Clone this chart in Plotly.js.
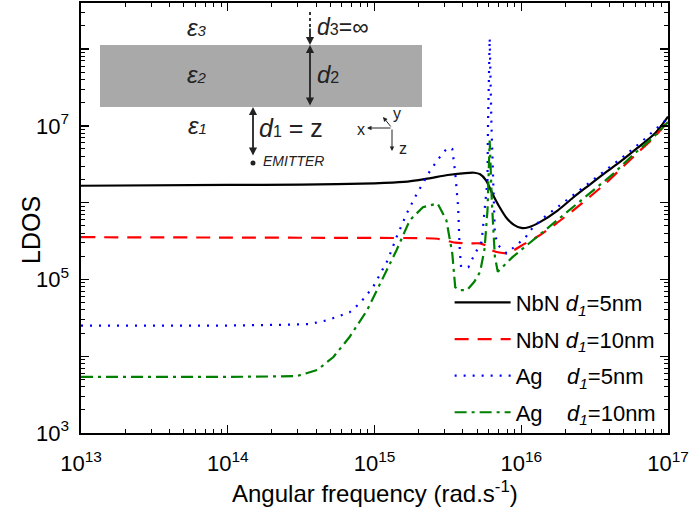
<!DOCTYPE html>
<html>
<head>
<meta charset="utf-8">
<script src="https://cdn.plot.ly/plotly-3.0.1.min.js"></script>
<style>html,body{margin:0;padding:0;background:#fff;}#chart{width:690px;height:508px;}</style>
</head>
<body>
<div id="chart"></div>
<script>
// Angular frequency (rad/s) and LDOS values
var nbn5_x = [1e13, 1e14, 3.162e14, 1e15, 1.585e15, 2.239e15, 3.162e15, 4.169e15, 4.786e15, 5.248e15, 5.754e15, 6.310e15, 7.079e15, 7.943e15, 8.913e15, 1e16, 1.122e16, 1.349e16, 1.778e16, 2.239e16, 2.818e16, 3.802e16, 5.012e16, 6.457e16, 7.943e16, 8.913e16, 1e17];
var nbn5_y = [1.66e6, 1.70e6, 1.72e6, 1.78e6, 1.86e6, 2.04e6, 2.29e6, 2.43e6, 2.45e6, 2.34e6, 1.95e6, 1.35e6, 8.91e5, 6.31e5, 5.13e5, 4.68e5, 4.79e5, 5.62e5, 7.94e5, 1.15e6, 1.62e6, 2.51e6, 3.72e6, 5.50e6, 7.59e6, 9.77e6, 1.32e7];

var nbn10_x = [1e13, 1e14, 1e15, 1.995e15, 2.692e15, 3.548e15, 4.467e15, 5.248e15, 5.754e15, 6.310e15, 7.079e15, 7.943e15, 8.913e15, 1e16, 1.349e16, 1.738e16, 2.512e16, 3.802e16, 5.012e16, 6.457e16, 7.943e16, 1e17];
var nbn10_y = [3.55e5, 3.51e5, 3.47e5, 3.45e5, 3.39e5, 3.02e5, 2.95e5, 2.95e5, 2.75e5, 2.40e5, 2.24e5, 2.19e5, 2.40e5, 2.75e5, 3.80e5, 5.37e5, 9.33e5, 1.82e6, 3.02e6, 4.79e6, 6.92e6, 1.15e7];

var ag5_x = [1e13, 1e14, 2.512e14, 3.631e14, 4.786e14, 6.761e14, 7.943e14, 9.772e14, 1.230e15, 1.413e15, 1.660e15, 1.950e15, 2.399e15, 2.951e15, 3.236e15, 3.388e15, 3.548e15, 3.715e15, 3.802e15, 3.890e15, 4.365e15, 4.786e15, 5.370e15, 5.623e15, 5.888e15, 5.933e15, 6.095e15, 6.266e15, 6.457e15, 6.607e15, 6.918e15, 7.943e15, 9.333e15, 1.072e16, 1.202e16, 1.413e16, 1.905e16, 2.630e16, 3.631e16, 4.898e16, 6.761e16, 1e17];
var ag5_y = [2.51e4, 2.51e4, 2.57e4, 2.63e4, 2.95e4, 3.72e4, 4.90e4, 7.94e4, 1.78e5, 3.55e5, 7.24e5, 1.32e6, 2.63e6, 4.57e6, 5.25e6, 5.01e6, 2.45e6, 8.71e5, 2.63e5, 1.45e5, 1.45e5, 2.09e5, 3.09e5, 7.24e5, 2.0e6, 1.0e7, 1.38e8, 1.0e7, 1.0e6, 3.98e5, 2.82e5, 2.19e5, 2.82e5, 3.55e5, 4.79e5, 6.31e5, 9.77e5, 1.55e6, 2.51e6, 3.89e6, 6.46e6, 1.26e7];

var ag10_x = [1e13, 1e14, 2.951e14, 4.074e14, 5.248e14, 6.761e14, 8.913e14, 1.148e15, 1.413e15, 1.738e15, 2.138e15, 2.692e15, 3.090e15, 3.388e15, 3.548e15, 3.802e15, 4.266e15, 4.786e15, 5.248e15, 5.623e15, 5.888e15, 6.095e15, 6.310e15, 6.607e15, 6.918e15, 8.710e15, 1.202e16, 1.660e16, 2.239e16, 3.090e16, 4.266e16, 5.754e16, 7.943e16, 1e17];
var ag10_y = [5.37e3, 5.37e3, 5.50e3, 6.61e3, 9.77e3, 1.78e4, 3.98e4, 1.07e5, 2.40e5, 5.89e5, 8.71e5, 9.77e5, 5.89e5, 2.19e5, 7.94e4, 7.24e4, 7.24e4, 9.33e4, 1.26e5, 2.51e5, 7.94e5, 6.46e6, 1.0e6, 2.0e5, 1.26e5, 1.95e5, 3.24e5, 5.37e5, 8.71e5, 1.45e6, 2.40e6, 4.17e6, 7.08e6, 1.12e7];

var legendNames = ['NbN <i>d<sub>1</sub></i>=5nm', 'NbN <i>d<sub>1</sub></i>=10nm', 'Ag\u00A0\u00A0\u00A0\u00A0<i>d<sub>1</sub></i>=5nm', 'Ag\u00A0\u00A0\u00A0\u00A0<i>d<sub>1</sub></i>=10nm'];
var xTickVals = [1e13, 1e14, 1e15, 1e16, 1e17];
var xTickText = ['10<sup>13</sup>', '10<sup>14</sup>', '10<sup>15</sup>', '10<sup>16</sup>', '10<sup>17</sup>'];
var yTickVals = [1e3, 1e4, 1e5, 1e6, 1e7, 1e8];
var yTickText = ['10<sup>3</sup>', '', '10<sup>5</sup>', '', '10<sup>7</sup>', ''];
var xTitle = 'Angular frequency (rad.s<sup>-1</sup>)';
var yTitle = 'LDOS';

var FONT = 'Arial, "Liberation Sans", sans-serif';

var traces = [
  {x: nbn5_x, y: nbn5_y, name: legendNames[0], legendgroup: 'a', mode: 'lines', line: {color: '#000000', width: 2.2, shape: 'spline', smoothing: 0.6}},
  {x: nbn10_x, y: nbn10_y, name: legendNames[1], legendgroup: 'b', mode: 'lines', line: {color: '#ff0000', width: 2.2, dash: '14px,9px', shape: 'spline', smoothing: 0.6}},
  {x: ag5_x, y: ag5_y, name: legendNames[2], legendgroup: 'c', mode: 'lines', line: {color: '#0000ff', width: 2.2, dash: '2px,7px', shape: 'linear'}},
  {x: ag10_x, y: ag10_y, name: legendNames[3], legendgroup: 'd', mode: 'lines', line: {color: '#008000', width: 2.2, dash: '12px,5px,3px,5px', shape: 'linear'}}
];

// paper coordinate helpers for the inset schematic (plot area 587 x 430)
function px(v) { return (v - 81) / 587; }
function py(v) { return (433 - v) / 430; }

var txt = '#222222';
var annotations = [
  {text: '<i>ε</i><span style="font-size:15px"><i>3</i></span>', x: px(197), y: py(28), size: 24},
  {text: '<i>ε</i><span style="font-size:15px"><i>2</i></span>', x: px(197), y: py(74), size: 24},
  {text: '<i>ε</i><span style="font-size:15px"><i>1</i></span>', x: px(197), y: py(126), size: 24},
  {text: '<i>d</i><span style="font-size:16px">3</span>=∞', x: px(315), y: py(27), xanchor: 'left', size: 23},
  {text: '<i>d</i><span style="font-size:16px">2</span>', x: px(315), y: py(74), xanchor: 'left', size: 24},
  {text: '<i>d</i><span style="font-size:16px">1</span> = z', x: px(257), y: py(128), xanchor: 'left', size: 25},
  {text: '<i>EMITTER</i>', x: px(261), y: py(161), xanchor: 'left', size: 14},
  {text: 'x', x: px(361), y: py(129), size: 16},
  {text: 'y', x: px(397), y: py(114), size: 16},
  {text: 'z', x: px(403), y: py(148), size: 16}
].map(function (a) {
  return {text: a.text, x: a.x, y: a.y, xref: 'paper', yref: 'paper', xanchor: a.xanchor || 'center', yanchor: 'middle', showarrow: false, font: {family: FONT, size: a.size || 20, color: txt}};
});
// axis titles
annotations.push({text: xTitle, x: 0.5, y: py(492), xref: 'paper', yref: 'paper', xanchor: 'center', yanchor: 'middle', showarrow: false, font: {family: FONT, size: 24, color: '#000'}});
annotations.push({text: yTitle, x: px(31), y: py(230), xref: 'paper', yref: 'paper', xanchor: 'center', yanchor: 'middle', textangle: -90, showarrow: false, font: {family: FONT, size: 25, color: '#000'}});

function arrow(x1, y1, x2, y2, both, w, sz) {
  return {x: px(x2), y: py(y2), xref: 'paper', yref: 'paper', ax: x1 - x2, ay: y1 - y2, text: '', showarrow: true,
    arrowhead: 2, startarrowhead: 2, arrowside: both ? 'end+start' : 'end', arrowwidth: w, arrowsize: sz, startarrowsize: sz, arrowcolor: txt, standoff: 0, startstandoff: 0};
}
annotations.push(arrow(310, 27, 310, 45, false, 1.8, 0.9));
annotations.push(arrow(310, 107, 310, 45, true, 1.8, 0.9));
annotations.push(arrow(253, 157, 253, 107, true, 1.8, 0.9));
annotations.push(arrow(392, 128, 367, 128, false, 1, 0.9));
annotations.push(arrow(392, 128, 392, 151, false, 1, 0.9));
annotations.push(arrow(392, 128, 383, 117, false, 1, 0.9));

var shapes = [
  {type: 'rect', xref: 'paper', yref: 'paper', x0: px(100), x1: px(422), y0: py(107), y1: py(45), fillcolor: '#a9a9a9', line: {width: 0}, layer: 'below'},
  {type: 'line', xref: 'paper', yref: 'paper', x0: px(310), x1: px(310), y0: py(12), y1: py(27), line: {color: txt, width: 1.8, dash: 'dot'}},
  {type: 'circle', xref: 'paper', yref: 'paper', x0: px(250.5), x1: px(255.5), y0: py(165.5), y1: py(160.5), fillcolor: txt, line: {width: 0}}
];

var axisCommon = {
  type: 'log', showgrid: false, zeroline: false, showline: true, linecolor: '#000', linewidth: 1.6,
  mirror: 'allticks', ticks: 'inside', ticklen: 8, tickwidth: 1.4, tickcolor: '#000', tickmode: 'array',
  minor: {ticks: 'inside', ticklen: 4, tickwidth: 1, tickcolor: '#000', dtick: 'D1', showgrid: false},
  tickfont: {family: FONT, size: 22, color: '#000'}
};

var layout = {
  width: 690, height: 508,
  margin: {l: 81, r: 22, t: 3, b: 75},
  paper_bgcolor: '#fff', plot_bgcolor: '#fff',
  font: {family: FONT, color: '#000'},
  xaxis: Object.assign({}, axisCommon, {range: [13, 17], tickvals: xTickVals, ticktext: xTickText, ticklabelstandoff: 10}),
  yaxis: Object.assign({}, axisCommon, {range: [3, 8.6], tickvals: yTickVals, ticktext: yTickText, ticklabelstandoff: 6}),
  showlegend: true,
  legend: {x: 0.628, y: 0.352, xanchor: 'left', yanchor: 'top', bgcolor: 'rgba(0,0,0,0)', borderwidth: 0,
    font: {family: FONT, size: 22, color: '#000'}, itemwidth: 56, tracegroupgap: 5},
  annotations: annotations,
  shapes: shapes
};

Plotly.newPlot('chart', traces, layout, {displayModeBar: false, staticPlot: true});
</script>
</body>
</html>
